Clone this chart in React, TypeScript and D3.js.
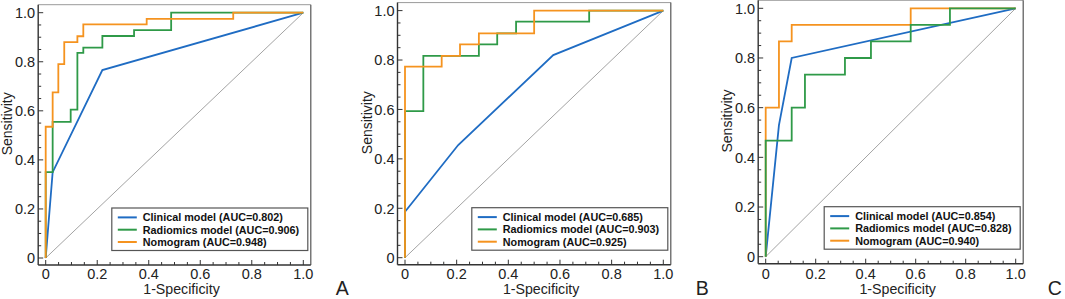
import React from "react";
import * as d3 from "d3";

// ---------- DATA (fpr, tpr) ----------
const seriesNames = ["Clinical model", "Radiomics model", "Nomogram"];
const panelLabels = ["A", "B", "C"];

const aucA = ["0.802", "0.906", "0.948"];
const aucB = ["0.685", "0.903", "0.925"];
const aucC = ["0.854", "0.828", "0.940"];

const clinicalA: [number, number][] = [[0, 0], [0.027, 0.35], [0.22, 0.766], [1, 1]];
const radiomicsA: [number, number][] = [[0, 0], [0, 0.35], [0.027, 0.555], [0.097, 0.605], [0.123, 0.836], [0.146, 0.858], [0.22, 0.905], [0.343, 0.929], [0.487, 1], [1, 1]];
const nomogramA: [number, number][] = [[0, 0], [0, 0.535], [0.027, 0.675], [0.049, 0.79], [0.072, 0.88], [0.123, 0.904], [0.146, 0.952], [0.392, 0.975], [0.728, 1], [1, 1]];

const clinicalB: [number, number][] = [[0, 0], [0, 0.186], [0.206, 0.456], [0.574, 0.82], [1, 1]];
const radiomicsB: [number, number][] = [[0, 0], [0, 0.593], [0.071, 0.817], [0.286, 0.863], [0.357, 0.908], [0.43, 0.955], [0.713, 1], [1, 1]];
const nomogramB: [number, number][] = [[0, 0], [0, 0.773], [0.142, 0.817], [0.213, 0.863], [0.286, 0.908], [0.5, 1], [1, 1]];

const clinicalC: [number, number][] = [[0, 0], [0.053, 0.53], [0.104, 0.8], [1, 1]];
const radiomicsC: [number, number][] = [[0, 0], [0, 0.467], [0.104, 0.6], [0.157, 0.733], [0.317, 0.8], [0.421, 0.867], [0.58, 0.933], [0.737, 1], [1, 1]];
const nomogramC: [number, number][] = [[0, 0], [0, 0.6], [0.053, 0.867], [0.104, 0.933], [0.58, 1], [1, 1]];

const majorTicks = [0, 0.2, 0.4, 0.6, 0.8, 1.0];
const tickLabels = ["0", "0.2", "0.4", "0.6", "0.8", "1.0"];
const minorTicks = d3.range(0, 1.0001, 0.05);

// ---------- STYLE / LAYOUT ----------
const COLORS = ["#1f6cc3", "#2f9a48", "#f5931f"];
const FONT = "'Liberation Sans', Arial, Helvetica, sans-serif";

const panels = [
  { label: 0, auc: aucA, data: [clinicalA, radiomicsA, nomogramA], order: [0, 1, 2], x0: 45.7, x1: 303.3, yTop: 12.7, yBot: 258 },
  { label: 1, auc: aucB, data: [clinicalB, radiomicsB, nomogramB], order: [0, 1, 2], x0: 405, x1: 663.3, yTop: 10.6, yBot: 257.7 },
  { label: 2, auc: aucC, data: [clinicalC, radiomicsC, nomogramC], order: [0, 2, 1], x0: 765.7, x1: 1015.7, yTop: 8.3, yBot: 256.7 },
];

function Panel({ p }: { p: (typeof panels)[number] }) {
  const x = d3.scaleLinear().domain([0, 1]).range([p.x0, p.x1]);
  const y = d3.scaleLinear().domain([0, 1]).range([p.yBot, p.yTop]);
  const padX = 7.5;
  const fl = p.x0 - padX;
  const fr = p.x1 + padX;
  const ft = p.yTop - 8;
  const fb = p.yBot + 7;
  const stepLine = d3.line<[number, number]>().x((d) => x(d[0])).y((d) => y(d[1])).curve(d3.curveStepAfter);
  const linLine = d3.line<[number, number]>().x((d) => x(d[0])).y((d) => y(d[1]));
  const boxW = 196;
  const boxH = 42.5;
  const bx = fr - 3 - boxW;
  const by = fb - 14.5 - boxH;
  return (
    <g>
      {/* diagonal */}
      <line x1={x(0)} y1={y(0)} x2={x(1)} y2={y(1)} stroke="#a3a3a3" strokeWidth={1} />
      {p.order.map((i) => (
        <path
          key={i}
          d={(i === 0 ? linLine : stepLine)(p.data[i]) || ""}
          fill="none"
          stroke={COLORS[i]}
          strokeWidth={1.8}
        />
      ))}
      {/* frame */}
      <line x1={fl} y1={ft} x2={fr} y2={ft} stroke="#9a9a9a" strokeWidth={1} />
      <line x1={fr} y1={ft} x2={fr} y2={fb} stroke="#555" strokeWidth={1.2} />
      <line x1={fl} y1={ft} x2={fl} y2={fb} stroke="#333" strokeWidth={1.4} />
      <line x1={fl} y1={fb} x2={fr} y2={fb} stroke="#333" strokeWidth={1.4} />
      {/* ticks */}
      {minorTicks.map((t, i) => {
        const major = i % 4 === 0;
        const len = major ? 5 : 3;
        return (
          <g key={i}>
            <line x1={fl} x2={fl + len} y1={y(t)} y2={y(t)} stroke="#333" strokeWidth={1} />
            <line x1={x(t)} x2={x(t)} y1={fb} y2={fb - len} stroke="#333" strokeWidth={1} />
          </g>
        );
      })}
      {majorTicks.map((t, i) => (
        <g key={"l" + i} fontFamily={FONT} fontSize={14.5} fill="#222">
          <text x={fl - 3} y={y(t)} dy="0.36em" textAnchor="end">{tickLabels[i]}</text>
          <text x={x(t)} y={278.6} textAnchor="middle">{tickLabels[i]}</text>
        </g>
      ))}
      <text x={(p.x0 + p.x1) / 2 + 7} y={294} textAnchor="middle" fontFamily={FONT} fontSize={14.2} fill="#222">1-Specificity</text>
      <text
        transform={`translate(${fl - 31},${(p.yTop + p.yBot) / 2 - 11.5}) rotate(-90)`}
        dy="0.36em"
        textAnchor="middle"
        fontFamily={FONT}
        fontSize={14}
        fill="#222"
      >Sensitivity</text>
      {/* legend */}
      <rect x={bx} y={by} width={boxW} height={boxH} fill="#fff" stroke="#555" strokeWidth={1.2} />
      {seriesNames.map((s, i) => {
        const ly = by + 9.4 + i * 12.3;
        return (
          <g key={"g" + i}>
            <line x1={bx + 6} x2={bx + 25} y1={ly} y2={ly} stroke={COLORS[i]} strokeWidth={2} />
            <text x={bx + 31} y={ly} dy="0.36em" fontFamily={FONT} fontWeight="bold" fontSize={10.8} fill="#111">
              {`${s} (AUC=${p.auc[i]})`}
            </text>
          </g>
        );
      })}
      <text x={fr + 31.5} y={294.5} textAnchor="middle" fontFamily={FONT} fontSize={19.5} fill="#222">{panelLabels[p.label]}</text>
    </g>
  );
}

export default function App() {
  return (
    <svg
      width={1065}
      height={299}
      style={{ position: "absolute", left: 0, top: 0, background: "#fff" }}
    >
      <rect width={1065} height={299} fill="#fff" />
      {panels.map((p, i) => (
        <Panel key={i} p={p} />
      ))}
    </svg>
  );
}
